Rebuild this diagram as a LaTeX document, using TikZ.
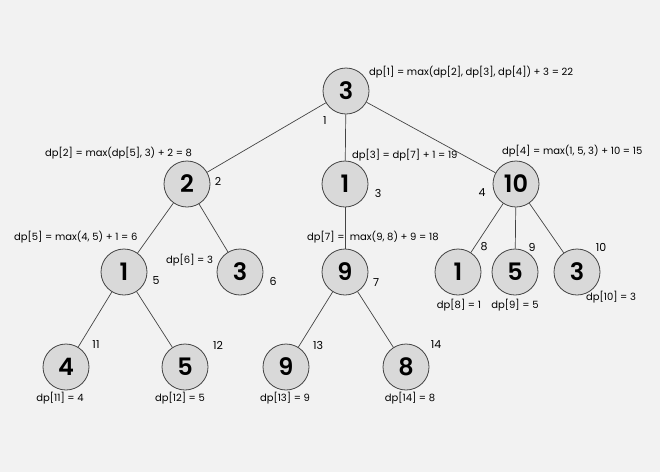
\documentclass[tikz,border=0pt]{standalone}
\usepackage{fontspec}
\setmainfont{Poppins}
\newfontfamily\numfont{Poppins SemiBold}
\usepackage{xcolor}
\usepackage{tikz}
\definecolor{bgcol}{HTML}{F2F2F2}
\definecolor{nodecol}{HTML}{D9D9D9}
\definecolor{edgecol}{HTML}{444444}
\tikzstyle{treenode} = [draw=edgecol, fill=nodecol, circle, line width=0.8pt,
minimum size=46pt, inner sep=0pt, font=\fontsize{24}{24}\numfont]
\tikzstyle{idx} = [inner sep=0pt, font=\fontsize{11}{11}\selectfont]
\tikzstyle{dptext} = [inner sep=0pt, font=\fontsize{10}{10}\selectfont]
\tikzstyle{edge} = [draw=edgecol, line width=0.7pt]

\begin{document}
\begin{tikzpicture}[x=1pt, y=-1pt]
        \fill[bgcol] (0,0) rectangle (660,472);
        \useasboundingbox (0,0) rectangle (660,472);
        % tree nodes
        \node[treenode] (n1) at (346,91) {3};
        \node[treenode] (n2) at (187,184) {2};
        \node[treenode] (n3) at (345,184) {1};
        \node[treenode] (n4) at (516,184) {10};
        \node[treenode] (n5) at (124,272) {1};
        \node[treenode] (n6) at (240,272) {3};
        \node[treenode] (n7) at (345,272) {9};
        \node[treenode] (n8) at (458,272) {1};
        \node[treenode] (n9) at (515,272) {5};
        \node[treenode] (n10) at (577,272) {3};
        \node[treenode] (n11) at (66,367) {4};
        \node[treenode] (n12) at (185,367) {5};
        \node[treenode] (n13) at (286,367) {9};
        \node[treenode] (n14) at (406,367) {8};
        % edges
        \draw[edge] (n1) -- (n2);
        \draw[edge] (n1) -- (n3);
        \draw[edge] (n1) -- (n4);
        \draw[edge] (n2) -- (n5);
        \draw[edge] (n2) -- (n6);
        \draw[edge] (n3) -- (n7);
        \draw[edge] (n4) -- (n8);
        \draw[edge] (n4) -- (n9);
        \draw[edge] (n4) -- (n10);
        \draw[edge] (n5) -- (n11);
        \draw[edge] (n5) -- (n12);
        \draw[edge] (n7) -- (n13);
        \draw[edge] (n7) -- (n14);
        % indices
        \node[idx] (i1) at (325,121) {1};
        \node[idx] (i2) at (218,181) {2};
        \node[idx] (i3) at (378,193) {3};
        \node[idx] (i4) at (482,193) {4};
        \node[idx] (i5) at (156,281) {5};
        \node[idx] (i6) at (273,281) {6};
        \node[idx] (i7) at (376,283) {7};
        \node[idx] (i8) at (484,247) {8};
        \node[idx] (i9) at (532,247) {9};
        \node[idx] (i10) at (601,247) {10};
        \node[idx] (i11) at (96,345) {11};
        \node[idx] (i12) at (218,345) {12};
        \node[idx] (i13) at (318,345) {13};
        \node[idx] (i14) at (436,345) {14};
        % dp values
        \node[dptext, anchor=west] (d1) at (369,72) {dp[1] = max(dp[2], dp[3], dp[4]) + 3 = 22};
        \node[dptext, anchor=west] (d2) at (45,153) {dp[2] = max(dp[5], 3) + 2 = 8};
        \node[dptext, anchor=west] (d3) at (352,155) {dp[3] = dp[7] + 1 = 19};
        \node[dptext, anchor=west] (d4) at (502,151) {dp[4] = max(1, 5, 3) + 10 = 15};
        \node[dptext, anchor=west] (d5) at (14,237) {dp[5] = max(4, 5) + 1 = 6};
        \node[dptext, anchor=west] (d6) at (166,260) {dp[6] = 3};
        \node[dptext, anchor=west] (d7) at (307,237) {dp[7] = \ max(9, 8) + 9 = 18};
        \node[dptext] (d8) at (459,305) {dp[8] = 1};
        \node[dptext] (d9) at (515,305) {dp[9] = 5};
        \node[dptext] (d10) at (611,297) {dp[10] = 3};
        \node[dptext] (d11) at (60,398) {dp[11] = 4};
        \node[dptext] (d12) at (180,398) {dp[12] = 5};
        \node[dptext] (d13) at (285,398) {dp[13] = 9};
        \node[dptext] (d14) at (410,398) {dp[14] = 8};
    \end{tikzpicture}
\end{document}
